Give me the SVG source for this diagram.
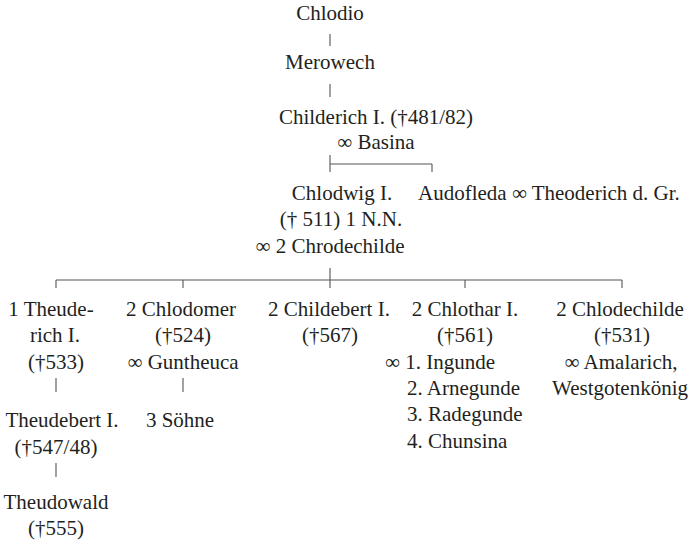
<svg xmlns="http://www.w3.org/2000/svg" width="691" height="543" viewBox="0 0 691 543">
<style>
text{font-family:"Liberation Serif","DejaVu Serif",serif;font-size:21px;fill:#231f20;text-anchor:middle}
text.s{text-anchor:start}
.c line{stroke:#555;stroke-width:1.1}
</style>
<rect width="691" height="543" fill="#fff"/>
<g class="c" id="connectors">
<line x1="330" y1="34" x2="330" y2="46"/>
<line x1="330" y1="84" x2="330" y2="97"/>
<line x1="330" y1="155" x2="330" y2="172"/>
<line x1="330" y1="164" x2="432" y2="164"/>
<line x1="432" y1="164" x2="432" y2="172"/>
<line x1="330" y1="268" x2="330" y2="288"/>
<line x1="56" y1="280" x2="622" y2="280"/>
<line x1="56" y1="280" x2="56" y2="288"/>
<line x1="183" y1="280" x2="183" y2="288"/>
<line x1="465" y1="280" x2="465" y2="288"/>
<line x1="622" y1="280" x2="622" y2="288"/>
<line x1="56" y1="378" x2="56" y2="392"/>
<line x1="183" y1="378" x2="183" y2="392"/>
<line x1="56" y1="463" x2="56" y2="477"/>
</g>
<g id="chlodio"><text x="330" y="20">Chlodio</text></g>
<g id="merowech"><text x="330" y="69">Merowech</text></g>
<g id="childerich"><text x="376" y="124">Childerich I. (†481/82)</text><text x="376" y="149">∞ Basina</text></g>
<g id="chlodwig"><text x="342" y="200">Chlodwig I.</text><text x="341" y="226">(† 511) 1 N.N.</text><text x="330" y="253">∞ 2 Chrodechilde</text></g>
<g id="audofleda"><text class="s" x="418" y="200">Audofleda ∞ Theoderich d. Gr.</text></g>
<g id="theuderich"><text x="51" y="316">1 Theude-</text><text x="55" y="342">rich I.</text><text x="56" y="369">(†533)</text></g>
<g id="theudebert"><text x="62" y="427">Theudebert I.</text><text x="56" y="454">(†547/48)</text></g>
<g id="theudowald"><text x="56" y="509">Theudowald</text><text x="56" y="535">(†555)</text></g>
<g id="chlodomer"><text x="181" y="316">2 Chlodomer</text><text x="183" y="342">(†524)</text><text x="183" y="369">∞ Guntheuca</text></g>
<g id="soehne"><text x="180" y="427">3 Söhne</text></g>
<g id="childebert"><text x="329" y="316">2 Childebert I.</text><text x="330" y="342">(†567)</text></g>
<g id="chlothar"><text x="465" y="316">2 Chlothar I.</text><text x="465" y="342">(†561)</text><text class="s" x="385" y="369">∞ 1. Ingunde</text><text class="s" x="407" y="395">2. Arnegunde</text><text class="s" x="407" y="421">3. Radegunde</text><text class="s" x="407" y="448">4. Chunsina</text></g>
<g id="chlodechilde"><text x="620" y="316">2 Chlodechilde</text><text x="622" y="342">(†531)</text><text x="621" y="369">∞ Amalarich,</text><text x="620" y="395">Westgotenkönig</text></g>
</svg>
